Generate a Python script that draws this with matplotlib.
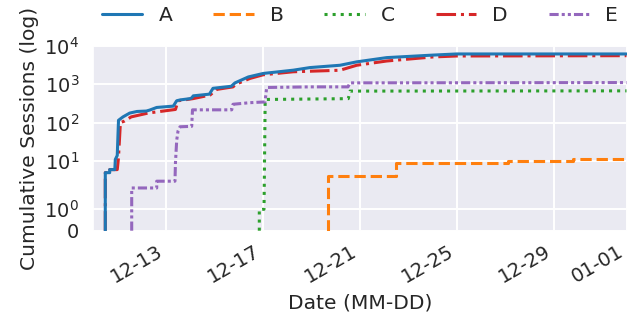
import matplotlib
matplotlib.use('Agg')
import matplotlib.pyplot as plt
import seaborn as sns
import pandas as pd
import numpy as np

sns.set_theme(style='darkgrid')
plt.rcParams['font.family'] = ['DejaVu Sans']

start = pd.Timestamp('2019-12-10')
end_day = 22.0

# Days since 2019-12-10 and cumulative session counts
a_days = [0.507, 0.507, 0.689, 0.689, 0.90, 0.92, 1.00, 1.052, 1.237, 1.513, 1.814, 2.20, 2.338,
          2.627, 3.20, 3.311, 3.45, 3.60, 4.00, 4.07, 4.136, 4.80, 4.948, 5.70, 5.856, 6.404,
          7.023, 8.26, 8.948, 10.186, 10.874, 12.111, 14.02, 15.0, 22.0]
a_vals = [0, 5, 5, 6, 6, 11, 14, 115, 141, 177, 195, 200, 212,
          248, 265, 268, 370, 390, 420, 440, 497, 550, 780, 880, 1080, 1540,
          1900, 2310, 2700, 3100, 3800, 4900, 5700, 6100, 6100]

b_days = [9.678, 9.678, 12.495, 12.495, 17.126, 17.126, 19.806, 19.806, 22.0]
b_vals = [0, 4, 4, 9, 9, 10, 10, 11, 11]

c_days = [6.858, 6.858, 7.052, 7.10, 10.528, 10.598, 22.0]
c_vals = [0, 1, 1, 400, 420, 660, 670]

d_days = [0.507, 0.507, 0.689, 0.689, 1.00, 1.05, 1.13, 1.303, 1.575, 2.268, 2.35, 3.40, 3.51,
          4.12, 4.825, 5.10, 5.773, 5.90, 6.474, 7.01, 8.26, 10.186, 10.874, 12.111, 14.02,
          15.0, 22.0]
d_vals = [0, 5, 5, 6, 6, 12, 100, 110, 141, 177, 180, 220, 370,
          420, 520, 730, 850, 1000, 1410, 1750, 2100, 2300, 3100, 4000, 5100,
          5400, 5500]

e_days = [1.596, 1.596, 2.627, 2.627, 3.381, 3.40, 3.452, 3.505, 3.588, 4.07, 4.103, 5.72,
          5.773, 6.474, 7.093, 7.163, 8.948, 10.515, 10.598, 22.0]
e_vals = [0, 2, 2, 3, 3, 9, 35, 60, 78, 80, 215, 215,
          300, 330, 345, 820, 850, 850, 1080, 1100]

labels = ['A', 'B', 'C', 'D', 'E']
tick_dates = ['2019-12-13', '2019-12-17', '2019-12-21', '2019-12-25', '2019-12-29', '2020-01-01']
y_ticks = [0, 1, 10, 100, 1000, 10000]


def to_dt(days):
    return start + pd.to_timedelta(np.array(days), unit='D')


series = [(a_days, a_vals), (b_days, b_vals), (c_days, c_vals), (d_days, d_vals), (e_days, e_vals)]
styles = ['-', '--', ':', '-.', (0, (3, 1, 1, 1, 1, 1))]
colors = ['#1f77b4', '#ff7f0e', '#2ca02c', '#d62728', '#9467bd']

fig = plt.figure(figsize=(6.32, 3.24), dpi=100)
ax = fig.add_axes([93 / 632, 1 - 230.7 / 324, (626.5 - 93) / 632, (230.7 - 45.7) / 324])

zorders = [5, 3, 3, 4, 3]
for (dd, vv), lab, ls, col, z in zip(series, labels, styles, colors, zorders):
    ax.plot(to_dt(dd), vv, linestyle=ls, color=col, lw=2.2, label=lab, zorder=z)

ax.set_yscale('symlog', linthresh=2, linscale=1)
ax.set_ylim(0, 1e4)
ax.set_yticks(y_ticks)
ax.set_xlim(start, start + pd.Timedelta(days=end_day))
ax.set_xticks(pd.to_datetime(tick_dates))
ax.xaxis.set_major_formatter(matplotlib.dates.DateFormatter('%m-%d'))
ax.minorticks_off()
ax.grid(True, which='major', color='white', lw=1.4)

for t in ax.get_xticklabels():
    t.set_rotation(30)
    t.set_ha('right')
ax.tick_params(axis='both', labelsize=14, colors='0.15')
ax.tick_params(axis='y', pad=4)
ax.tick_params(axis='x', pad=2)

ax.set_xlabel('Date (MM-DD)', fontsize=14.6, color='0.15', labelpad=5)
ax.set_ylabel('Cumulative Sessions (log)', fontsize=14.6, color='0.15')

fig.legend(loc='center', bbox_to_anchor=(360 / 632, 1 - 15.5 / 324), ncol=5, frameon=False,
           fontsize=14.6, handlelength=2.0, columnspacing=2.0, handletextpad=0.8,
           borderaxespad=0)

fig.savefig('out.png', dpi=100)
